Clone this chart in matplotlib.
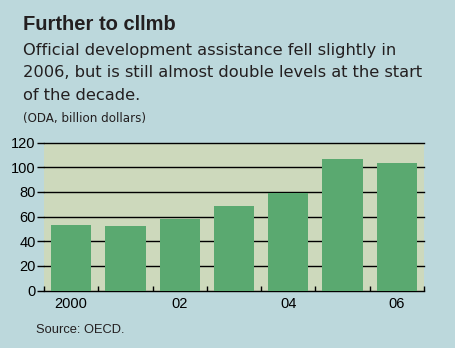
import matplotlib
matplotlib.use("Agg")
import matplotlib.pyplot as plt
import numpy as np

years = ["2000", "2001", "2002", "2003", "2004", "2005", "2006"]
values = [53.2, 52.4, 58.0, 68.6, 79.4, 106.7, 103.4]
xtick_labels = ["2000", "", "02", "", "04", "", "06"]
yticks = [0, 20, 40, 60, 80, 100, 120]

BG = "#bcd8dc"
PLOT_BG = "#cdd9bc"
BAR = "#5aa970"

plt.rcParams['font.family'] = ['Liberation Sans', 'DejaVu Sans']

fig = plt.figure(figsize=(4.55, 3.48), dpi=100, facecolor=BG)
ax = fig.add_axes([44/455, 1 - 290.5/348, 380/455, 148/348])
ax.set_facecolor(PLOT_BG)

x = np.arange(len(years))
ax.bar(x, values, width=0.74, color=BAR, zorder=3)
ax.set_xlim(-0.5, len(years) - 0.5)
ax.set_ylim(0, 120)

for s in ax.spines.values():
    s.set_visible(False)
for yv in yticks:
    ax.axhline(yv, color="black", lw=1.0, zorder=2, clip_on=False)

ax.set_yticks(yticks)
ax.set_yticklabels([str(v) for v in yticks], fontsize=10.5)
ax.tick_params(axis="y", length=5, width=1.0, direction="out", pad=1, colors="black")

# boundary ticks on x axis
ax.set_xticks(np.arange(-0.5, len(years) + 0.5, 1.0))
ax.set_xticklabels([])
ax.tick_params(axis="x", which="major", length=3.5, width=1.0, direction="in", bottom=True)
ax.set_xticks(x, minor=True)
ax.set_xticklabels(xtick_labels, minor=True, fontsize=10.5)
ax.tick_params(axis="x", which="minor", length=0, pad=5)

fig.text(23/455, 1 - 30/348, "Further to cllmb", fontsize=14.5, fontweight="heavy",
         color="#231f20", ha="left", va="baseline")
sub = ["Official development assistance fell slightly in",
       "2006, but is still almost double levels at the start",
       "of the decade."]
for i, line in enumerate(sub):
    fig.text(23/455, 1 - (55 + 22.3 * i)/348, line, fontsize=11.7, color="#231f20",
             ha="left", va="baseline", family="DejaVu Sans")
fig.text(23/455, 1 - 122/348, "(ODA, billion dollars)", fontsize=8.6, color="#231f20",
         ha="left", va="baseline", family="DejaVu Sans")
fig.text(36/455, 1 - 333/348, "Source: OECD.", fontsize=9.3, color="#231f20",
         ha="left", va="baseline")

fig.savefig("out.png", dpi=100, facecolor=BG)
